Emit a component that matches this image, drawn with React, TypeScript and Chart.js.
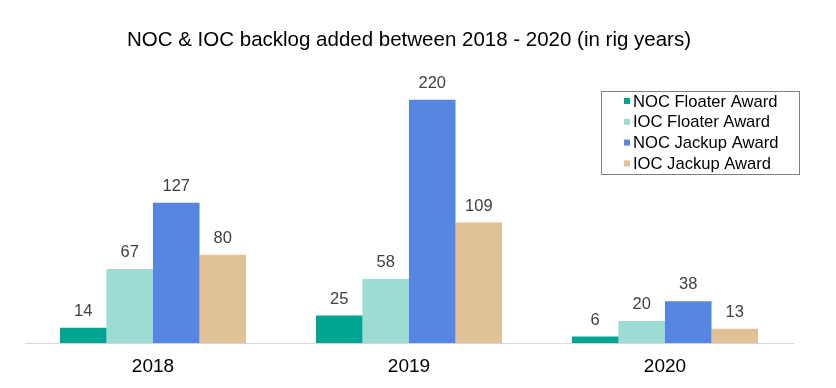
import React, { useEffect, useRef } from "react";
import { Chart, registerables } from "chart.js";

Chart.register(...registerables);

const categories = ["2018", "2019", "2020"];
const seriesNames = ["NOC Floater Award", "IOC Floater Award", "NOC Jackup Award", "IOC Jackup Award"];
const nocFloater = [14, 25, 6];
const iocFloater = [67, 58, 20];
const nocJackup = [127, 220, 38];
const iocJackup = [80, 109, 13];
const colors = ["#00A592", "#9DDBD5", "#5587E2", "#E1C196"];

const FONT = "Arial, 'Liberation Sans', sans-serif";

const valueLabels = {
  id: "valueLabels",
  afterDatasetsDraw(chart: any) {
    const ctx = chart.ctx;
    ctx.save();
    ctx.font = `16.5px ${FONT}`;
    ctx.fillStyle = "#404040";
    ctx.textAlign = "center";
    ctx.textBaseline = "alphabetic";
    chart.data.datasets.forEach((ds: any, i: number) => {
      const meta = chart.getDatasetMeta(i);
      meta.data.forEach((bar: any, j: number) => {
        ctx.fillText(String(ds.data[j]), bar.x, bar.y - 12);
      });
    });
    ctx.restore();
  },
};

const boxLegend = {
  id: "boxLegend",
  afterDraw(chart: any) {
    const ctx = chart.ctx;
    ctx.save();
    const x0 = 601, y0 = 91, w = 198, h = 83;
    ctx.strokeStyle = "#808080";
    ctx.lineWidth = 1;
    ctx.strokeRect(x0 + 0.5, y0 + 0.5, w, h);
    ctx.font = `16.6px ${FONT}`;
    ctx.textBaseline = "middle";
    ctx.textAlign = "left";
    chart.data.datasets.forEach((ds: any, i: number) => {
      const cy = 101 + i * 20.8;
      ctx.fillStyle = ds.backgroundColor;
      ctx.fillRect(624, cy - 3, 6, 6);
      ctx.fillStyle = "#000000";
      ctx.fillText(ds.label, 633, cy + 1);
    });
    ctx.restore();
  },
};

export default function App() {
  const ref = useRef<HTMLCanvasElement>(null);
  useEffect(() => {
    document.body.style.margin = "0";
    const values = [nocFloater, iocFloater, nocJackup, iocJackup];
    const chart = new Chart(ref.current!, {
      type: "bar",
      data: {
        labels: categories,
        datasets: seriesNames.map((name, i) => ({
          label: name,
          data: values[i],
          backgroundColor: colors[i],
          borderWidth: 0,
          categoryPercentage: 0.727,
          barPercentage: 1,
        })),
      },
      options: {
        animation: false,
        responsive: false,
        layout: { padding: { left: 25, right: 43, top: 0, bottom: -2 } },
        plugins: {
          legend: { display: false },
          tooltip: { enabled: false },
          title: {
            display: true,
            text: "NOC & IOC backlog added between 2018 - 2020 (in rig years)",
            color: "#000000",
            font: { family: FONT, size: 20.5, weight: "normal" },
            padding: { top: 28, bottom: 14 },
          },
        },
        scales: {
          x: {
            grid: { display: false, drawTicks: false },
            border: { display: true, color: "#D9D9D9", width: 1 },
            ticks: { color: "#000000", font: { family: FONT, size: 19 }, padding: 12 },
          },
          y: {
            display: false,
            min: 0,
            max: 250,
          },
        },
      },
      plugins: [valueLabels, boxLegend],
    });
    return () => chart.destroy();
  }, []);
  return (
    <div style={{ width: 836, height: 388 }}>
      <canvas ref={ref} width={836} height={388} />
    </div>
  );
}
